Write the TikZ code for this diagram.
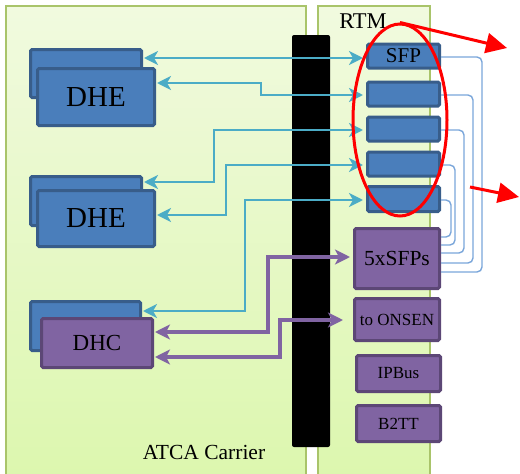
\documentclass[tikz,border=0pt]{standalone}
\usepackage{fontspec}
\setmainfont{Liberation Serif}
\usetikzlibrary{arrows.meta,shapes.geometric}
\definecolor{panelbd}{HTML}{A9C46A}
\definecolor{paneltop}{HTML}{F1FADF}
\definecolor{panelbot}{HTML}{DCF7AE}
\definecolor{bluefill}{HTML}{4A7EBB}
\definecolor{bluebd}{HTML}{385D8A}
\definecolor{purfill}{HTML}{8064A2}
\definecolor{purbd}{HTML}{5C4776}
\definecolor{cyanl}{HTML}{4BACC6}
\definecolor{thinblue}{HTML}{7AA6DA}
\definecolor{redl}{HTML}{FF0000}
\tikzset{
  panel/.style={draw=panelbd, line width=1.5pt, top color=paneltop, bottom color=panelbot},
  bluebox/.style={draw=bluebd, fill=bluefill, line width=3pt, rounded corners=1.5pt, inner sep=0pt},
  purbox/.style={draw=purbd, fill=purfill, line width=3pt, rounded corners=1.5pt, inner sep=0pt},
  carr/.style={draw=cyanl, line width=2.6pt, {Stealth[length=14pt,width=14pt,inset=4pt]}-{Stealth[length=14pt,width=14pt,inset=4pt]}},
  parr/.style={draw=purfill, line width=3.6pt, {Stealth[length=15pt,width=15pt,inset=4pt]}-{Stealth[length=15pt,width=15pt,inset=4pt]}},
  tlink/.style={draw=thinblue, line width=1.4pt, rounded corners=5pt},
  rarr/.style={draw=redl, line width=3pt, -{Triangle[length=21pt,width=20pt]}},
}
\begin{document}
\begin{tikzpicture}[x=1pt,y=-1pt]
\useasboundingbox (0,0) rectangle (520,474);
% panels
\path[panel] (6,6) rectangle (306,480);
\path[panel] (318,6) rectangle (430,480);
\node[font=\fontsize{21.5}{24}\selectfont] (atca) at (204,452) {ATCA Carrier};
\node[font=\fontsize{22.5}{24}\selectfont] (rtm) at (363,21) {RTM};
% black bar
\node[fill=black, rounded corners=2pt, minimum width=38pt, minimum height=412pt, inner sep=0pt] (bar) at (311,241) {};
% DHE 1
\node[bluebox, minimum width=111pt, minimum height=48pt] (dhe1b) at (86,73.5) {};
\node[bluebox, minimum width=117pt, minimum height=57pt, font=\fontsize{29}{30}\selectfont] (dhe1) at (96,97) {DHE};
% DHE 2
\node[bluebox, minimum width=111pt, minimum height=49pt] (dhe2b) at (86,201) {};
\node[bluebox, minimum width=117pt, minimum height=56pt, font=\fontsize{29}{30}\selectfont] (dhe2) at (96,218.5) {DHE};
% DHC
\node[bluebox, minimum width=110pt, minimum height=49pt] (dhcb) at (85.5,326) {};
\node[purbox, minimum width=111pt, minimum height=49pt, font=\fontsize{23}{26}\selectfont] (dhc) at (97,343) {DHC};
% SFP boxes
\node[bluebox, minimum width=72pt, minimum height=24pt, font=\fontsize{21}{22}\selectfont] (s1) at (403.5,56) {SFP};
\node[bluebox, minimum width=72pt, minimum height=24pt] (s2) at (403.5,94) {};
\node[bluebox, minimum width=72pt, minimum height=24pt] (s3) at (403.5,129) {};
\node[bluebox, minimum width=72pt, minimum height=24pt] (s4) at (403.5,164) {};
\node[bluebox, minimum width=72pt, minimum height=25pt] (s5) at (403.5,199) {};
% purple boxes
\node[purbox, minimum width=85pt, minimum height=60pt, font=\fontsize{21.5}{24}\selectfont] (sfps) at (397,258.5) {5xSFPs};
\node[purbox, minimum width=85pt, minimum height=42pt, font=\fontsize{17}{18}\selectfont] (onsen) at (397,319.5) {to ONSEN};
\node[purbox, minimum width=84pt, minimum height=36pt, font=\fontsize{17}{18}\selectfont] (ipbus) at (398.5,373.5) {IPBus};
\node[purbox, minimum width=84pt, minimum height=36pt, font=\fontsize{17}{18}\selectfont] (b2tt) at (398.5,423.5) {B2TT};
% cyan arrows
\draw[carr, shorten <=1pt, shorten >=3pt] (dhe1b.east |- 0,58) -- (s1.west |- 0,58);
\draw[carr, shorten <=1pt, shorten >=3pt] (dhe1.east |- 0,83) -| (261,95) -- (s2.west |- 0,95);
\draw[carr, shorten <=1pt, shorten >=3pt] (dhe2b.east |- 0,182) -| (214,130) -- (s3.west |- 0,130);
\draw[carr, shorten <=1pt, shorten >=3pt] (dhe2.east |- 0,215) -| (226,165) -- (s4.west |- 0,165);
\draw[carr, shorten <=1pt, shorten >=3pt] (dhcb.east |- 0,311) -| (245,200) -- (s5.west |- 0,200);
% purple arrows
\draw[parr, shorten <=1pt, shorten >=3pt] (dhc.east |- 0,332) -| (268,257) -- (sfps.west |- 0,257);
\draw[parr, shorten <=1pt, shorten >=10pt] (dhc.east |- 0,357) -| (280,320) -- (onsen.west |- 0,320);
% thin links
\draw[tlink] (s1.east |- 0,57) -| (482,272) -- (sfps.east |- 0,272);
\draw[tlink] (s2.east |- 0,95) -| (473,263) -- (sfps.east |- 0,263);
\draw[tlink] (s3.east |- 0,130) -| (464,253) -- (sfps.east |- 0,253);
\draw[tlink] (s4.east |- 0,165) -| (455,245) -- (sfps.east |- 0,245);
\draw[tlink] (s5.east |- 0,200) -| (451,237) -- (sfps.east |- 0,237);
% red ellipse and arrows
\node[draw=redl, line width=3pt, ellipse, minimum width=94pt, minimum height=192pt, inner sep=0pt] (ell) at (400,120) {};
\coordinate (r1) at (507,48);
\coordinate (r2s) at (470,187);
\coordinate (r2) at (519,197);
\draw[rarr] (ell.north) -- (r1);
\draw[rarr] (r2s) -- (r2);
\end{tikzpicture}
\end{document}
